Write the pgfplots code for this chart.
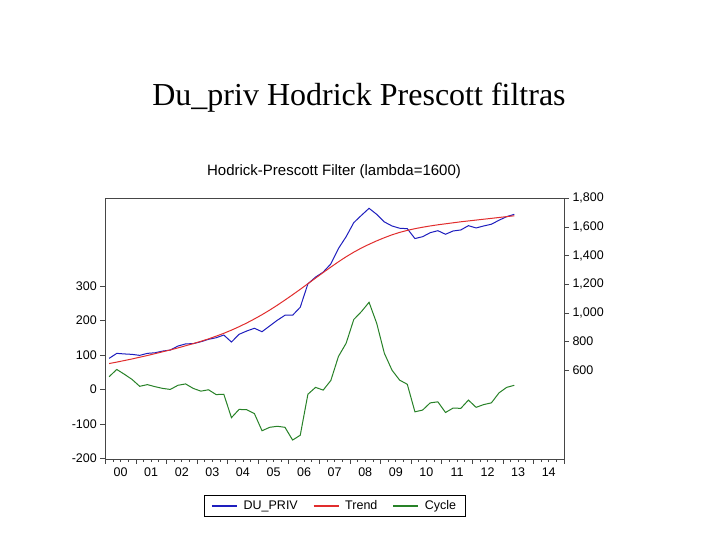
\documentclass[border=0pt]{standalone}
\usepackage{pgfplots}
\pgfplotsset{compat=1.18}
\usepackage{pgfplotstable}
\usepackage{fontspec}
\setmainfont{Liberation Serif}
\newfontfamily\arial{Liberation Sans}

\definecolor{dublue}{RGB}{30,30,190}
\definecolor{trendred}{RGB}{225,45,45}
\definecolor{cyclegreen}{RGB}{40,130,40}
\definecolor{axisgray}{RGB}{70,70,70}

% quarterly data, 2000Q1 = 0 ... 2013Q2 = 53
\pgfplotstableread{
i du trend cycle
0 683 647 37
1 718 657 58
2 714 668 44
3 711 679 29
4 704 691 9
5 718 703 14
6 722 716 8
7 734 729 3
8 741 742 0
9 769 756 12
10 784 771 16
11 786 786 3
12 799 802 -5
13 816 819 -1
14 827 838 -15
15 846 858 -14
16 797 880 -82
17 851 904 -58
18 874 930 -59
19 893 958 -70
20 869 988 -120
21 909 1020 -110
22 949 1054 -107
23 984 1090 -110
24 984 1127 -147
25 1040 1165 -133
26 1203 1204 -14
27 1250 1243 6
28 1285 1282 -2
29 1342 1320 26
30 1450 1357 96
31 1532 1392 134
32 1630 1424 203
33 1681 1453 226
34 1730 1479 253
35 1688 1503 192
36 1635 1525 105
37 1607 1545 56
38 1591 1562 27
39 1588 1576 15
40 1519 1588 -65
41 1532 1598 -60
42 1560 1607 -39
43 1574 1615 -36
44 1549 1622 -67
45 1572 1629 -54
46 1579 1636 -55
47 1609 1642 -31
48 1593 1648 -52
49 1607 1654 -44
50 1619 1660 -39
51 1647 1666 -10
52 1672 1672 6
53 1688 1678 12
}\hpdata

\pgfplotsset{
  hpbase/.style={
    width=458.7bp, height=260.7bp, scale only axis,
    at={(105.3bp,81bp)}, anchor=south west,
    xmin=-0.5, xmax=59.5,
    tick align=outside,
    major tick length=5bp, minor tick length=3bp,
    axis line style={draw=axisgray, line width=0.8bp},
    tick style={draw=axisgray, line width=0.7bp},
    ticklabel style={font=\arial\fontsize{12.5bp}{14bp}\selectfont, text=black},
    /pgf/number format/assume math mode=true,
  },
}

\begin{document}
\begin{tikzpicture}[x=1bp,y=1bp]
\useasboundingbox[fill=white] (0,0) rectangle (720,540);
\node[font=\fontsize{32bp}{36bp}\selectfont, anchor=base] at (359,434) {Du\_priv Hodrick Prescott filtras};
\node[font=\arial\fontsize{15bp}{17bp}\selectfont, anchor=base] at (334,364) {Hodrick-Prescott Filter (lambda=1600)};

\begin{axis}[hpbase,
  ymin=-202, ymax=555,
  ytick={-200,-100,...,300},
  xtick={-0.5,3.5,...,59.5},
  xticklabels={00,01,02,03,04,05,06,07,08,09,10,11,12,13,14,{}},
  xticklabel style={xshift=15.3bp},
  minor x tick num=3,
  xtick pos=bottom, ytick pos=left,
]
\addplot[cyclegreen, line width=1bp] table[x=i, y=cycle] {\hpdata};
\end{axis}

\begin{axis}[hpbase,
  ymin=-19, ymax=1800,
  axis x line=none, axis y line*=right,
  ytick={600,800,...,1800},
  ytick pos=right,
  yticklabel style={/pgf/number format/1000 sep={,}},
  legend columns=-1,
  legend style={name=hplegend, at={(0.5,-0.18)}, anchor=center, draw=none,
    font=\arial\fontsize{12.5bp}{14bp}\selectfont,
    inner xsep=7bp, inner ysep=3bp,
    /tikz/every odd column/.append style={column sep=4bp},
    /tikz/every even column/.append style={column sep=13bp}},
]
\addplot[dublue, line width=1bp, forget plot] table[x=i, y=du] {\hpdata};
\addplot[trendred, line width=1bp, forget plot] table[x=i, y=trend] {\hpdata};
\addlegendimage{legend image code/.code={\draw[draw=dublue, line width=1.4bp] (0bp,0bp) -- (25bp,0bp);}}
\addlegendimage{legend image code/.code={\draw[draw=trendred, line width=1.4bp] (0bp,0bp) -- (25bp,0bp);}}
\addlegendimage{legend image code/.code={\draw[draw=cyclegreen, line width=1.4bp] (0bp,0bp) -- (25bp,0bp);}}
\legend{DU\_PRIV, Trend, Cycle}
\end{axis}
\draw[line width=0.7bp] (hplegend.south west) rectangle (hplegend.north east);
\end{tikzpicture}
\end{document}
